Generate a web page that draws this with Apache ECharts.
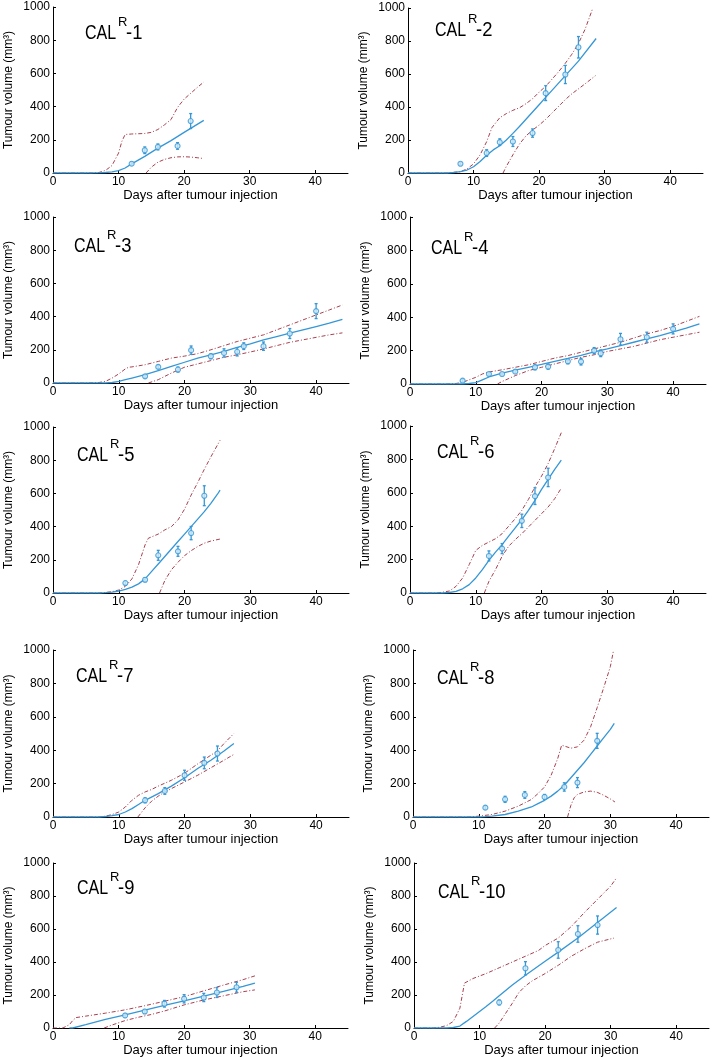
<!DOCTYPE html>
<html><head><meta charset="utf-8">
<script src="https://cdn.jsdelivr.net/npm/echarts@6/dist/echarts.min.js"></script>
<style>html,body{margin:0;padding:0;background:#fff}#c{width:713px;height:1057px}</style>
</head><body><div id="c"></div>
<script>
// ---- tick labels / categories ----
const panelNames = ['1','2','3','4','5','6','7','8','9','10'];
const xTickValues = [0, 10, 20, 30, 40];
const yTickValues = [0, 200, 400, 600, 800, 1000];
const xTitle = 'Days after tumour injection';
const yTitle = 'Tumour volume (mm³)';

// ---- data: observations [day, mean, sem], fit, upper and lower bounds [day, volume] ----
const p1Obs = [[12,56,10],[14,137,20],[16,157,18],[19,163,20],[21,313,45]];
const p1Fit = [[0,0],[5,0],[7,1],[8,3],[9,7],[10,14],[11,30],[12,55],[14,100],[16,150],[18,195],[20,245],[22,293],[23,317]];
const p1Up  = [[0,0],[6,0],[7,3],[8,15],[9,45],[10,120],[10.5,190],[11,232],[12,235],[14,238],[15,245],[16,262],[17,290],[18,322],[19,395],[20,445],[21,480],[22,515],[23,548]];
const p1Lo  = [[14.2,0],[15,35],[16,65],[17,82],[18,92],[19,97],[20,98],[21,96],[22,92],[23,87]];

const p2Obs = [[8,56,8],[12,121,20],[14,187,20],[16,191,30],[19,242,25],[21,484,45],[24,597,55],[26,762,65]];
const p2Fit = [[0,0],[6,0],[7,3],[8,8],[9,18],[10,38],[11,70],[12,108],[13,140],[14,165],[15,200],[16,240],[17,282],[18,326],[19,370],[20,414],[21,458],[22,502],[24,590],[26,678],[28.7,815]];
const p2Up  = [[0,0],[6,0],[8,8],[9,25],[10,55],[11,110],[12,190],[12.8,275],[14,335],[15,360],[16,380],[17,395],[18,420],[19,450],[20,490],[21,525],[22,570],[23,615],[24,665],[25,720],[26,785],[27,870],[28.2,1000]];
const p2Lo  = [[14.5,0],[15,40],[16,110],[17,175],[18,225],[19,260],[20,290],[21,325],[22,365],[23,405],[24,445],[25,480],[26,510],[27,540],[28.6,590]];

const p3Obs = [[14,40,8],[16,97,10],[19,81,15],[21,198,25],[24,161,15],[26,181,25],[28,188,25],[29,222,20],[32,222,25],[36,298,30],[40,433,45]];
const p3Fit = [[0,0],[8,0],[9,3],[10,10],[11,20],[12,30],[14,50],[16,75],[18,100],[20,125],[22,150],[24,170],[26,190],[28,215],[30,235],[32,260],[34,280],[36,300],[38,320],[40,340],[42,360],[44,383]];
const p3Up  = [[0,0],[5,0],[7,3],[8,10],[9,30],[10,55],[11,85],[11.5,95],[12,97],[14,110],[16,130],[18,150],[20,162],[22,177],[24,200],[26,225],[28,250],[30,270],[32,290],[34,320],[36,350],[38,380],[40,410],[42,440],[44,470]];
const p3Lo  = [[14.5,0],[16,20],[18,60],[20,95],[22,115],[24,135],[26,155],[28,170],[30,187],[32,205],[34,225],[36,245],[38,260],[40,275],[42,290],[44,302]];

const p4Obs = [[8,20,8],[12,60,8],[14,60,6],[16,74,8],[19,100,15],[21,104,15],[24,136,15],[26,134,20],[28,200,18],[29,184,20],[32,268,35],[36,280,30],[40,330,30]];
const p4Fit = [[0,0],[8,0],[9,3],[10,8],[11,25],[12,42],[14,65],[16,83],[18,100],[20,117],[22,135],[24,153],[26,172],[28,192],[30,210],[32,230],[34,250],[36,270],[38,290],[40,312],[42,335],[44,360]];
const p4Up  = [[0,0],[5.5,0],[7,3],[8,10],[9,25],[10,40],[11,60],[12,72],[14,85],[16,100],[18,115],[20,135],[22,155],[24,170],[26,190],[28,210],[30,230],[32,250],[34,275],[36,300],[38,320],[40,345],[42,375],[44,405]];
const p4Lo  = [[13.3,0],[14,15],[16,50],[18,80],[20,100],[22,120],[24,140],[26,160],[28,175],[30,195],[32,210],[34,225],[36,245],[38,265],[40,280],[42,295],[44,310]];

const p5Obs = [[11,60,10],[14,80,12],[16,227,30],[19,251,30],[21,361,40],[23,586,60]];
const p5Fit = [[0,0],[7,0],[8,2],[9,5],[10,12],[11,22],[12,35],[13,55],[14,85],[15,130],[16,175],[17,220],[18,265],[19,310],[20,355],[21,400],[22,445],[23,490],[24,540],[25,595],[25.4,620]];
const p5Up  = [[0,0],[7,0],[8,3],[9,8],[10,18],[11,40],[12,85],[13,170],[14,290],[14.5,330],[16,355],[17,380],[18,400],[19,440],[20,505],[21,590],[22,665],[23,745],[24,820],[25.4,920]];
const p5Lo  = [[16.2,0],[17,75],[18,140],[19,185],[20,225],[21,255],[22,280],[23,300],[24,313],[25.4,325]];

const p6Obs = [[12,222,30],[14,266,30],[17,432,40],[19,580,50],[21,692,55]];
const p6Fit = [[0,0],[5,0],[6,3],[7,10],[8,25],[9,50],[10,90],[11,140],[12,195],[13,245],[14,290],[15,340],[16,390],[17,440],[18,495],[19,555],[20,620],[21,680],[22,740],[23,795]];
const p6Up  = [[0,0],[4,0],[5,5],[6,12],[7,40],[8,90],[9,170],[10,255],[11,285],[12,305],[13,325],[14,355],[15,400],[16,445],[17,495],[18,560],[19,635],[20,700],[21,775],[22,865],[23,960]];
const p6Lo  = [[11.3,0],[12,70],[13,140],[14,220],[15,280],[16,320],[17,355],[18,395],[19,435],[20,475],[21,515],[22,565],[23,628]];

const p7Obs = [[14,100,15],[17,156,20],[20,250,30],[23,324,35],[25,380,45]];
const p7Fit = [[0,0],[7,0],[8,3],[9,8],[10,15],[11,30],[12,50],[13,75],[14,100],[16,140],[18,185],[20,235],[22,290],[24,340],[26,395],[27.5,440]];
const p7Up  = [[0,0],[7,0],[8,5],[9,15],[10,30],[11,60],[12,100],[13,130],[14,150],[15,165],[16,185],[18,220],[20,262],[22,318],[24,370],[25,396],[26,440],[27.5,500]];
const p7Lo  = [[12.9,0],[14,55],[15,95],[16,125],[17,150],[18,170],[20,210],[22,250],[24,295],[26,340],[27.5,375]];

const p8Obs = [[11,56,10],[14,106,18],[17,132,20],[20,120,15],[23,180,25],[25,206,30],[28,456,45]];
const p8Fit = [[0,0],[10,0],[11,2],[12,5],[14,15],[16,35],[18,60],[19,80],[20,100],[21,125],[22,155],[23,190],[24,235],[25,280],[26,325],[27,375],[28,425],[29,475],[30,525],[30.6,560]];
const p8Up  = [[0,0],[8.5,0],[10,5],[12,15],[14,35],[16,65],[18,105],[19,140],[20,180],[21,250],[22,350],[22.6,430],[23,425],[24,412],[25,420],[26,460],[27,540],[28,655],[29,775],[30,900],[30.5,1000]];
const p8Lo  = [[23.5,0],[24,70],[24.5,115],[25,135],[26,150],[27,155],[28,148],[29,130],[30,108],[30.7,90]];

const p9Obs = [[11,76,12],[14,100,12],[17,147,20],[20,177,25],[23,185,25],[25,215,30],[28,247,30]];
const p9Fit = [[2.5,0],[3,0],[5,20],[8,52],[11,80],[14,108],[17,137],[20,165],[23,193],[26,222],[29,252],[30.8,272]];
const p9Up  = [[0,0],[1.5,0],[2.5,20],[3,45],[3.5,63],[5,72],[8,90],[11,110],[14,135],[17,162],[20,190],[23,225],[26,260],[29,293],[30.8,316]];
const p9Lo  = [[7.8,0],[9,18],[11,45],[13,65],[15,82],[17,103],[20,140],[23,170],[26,195],[29,220],[30.8,231]];

const p10Obs = [[13,155,15],[17,362,40],[22,473,50],[25,570,50],[28,624,55]];
const p10Fit = [[0,0],[5,0],[6,3],[7,12],[8,40],[9,70],[10,100],[11,130],[12,162],[13,195],[15,260],[17,320],[20,405],[22,460],[25,545],[28,640],[30.9,730]];
const p10Up  = [[0,0],[3,0],[4,5],[5,15],[6,40],[7,120],[7.7,272],[9,300],[11,330],[13,365],[15,400],[17,435],[19,470],[20,500],[22,545],[24,615],[26,700],[28,780],[30,860],[30.9,910]];
const p10Lo  = [[12.3,0],[13,30],[14,90],[15,150],[16,215],[17,255],[18,285],[20,330],[22,380],[24,435],[26,480],[28,520],[30.5,545]];

const obsList = [p1Obs,p2Obs,p3Obs,p4Obs,p5Obs,p6Obs,p7Obs,p8Obs,p9Obs,p10Obs];
const fitList = [p1Fit,p2Fit,p3Fit,p4Fit,p5Fit,p6Fit,p7Fit,p8Fit,p9Fit,p10Fit];
const upList  = [p1Up,p2Up,p3Up,p4Up,p5Up,p6Up,p7Up,p8Up,p9Up,p10Up];
const loList  = [p1Lo,p2Lo,p3Lo,p4Lo,p5Lo,p6Lo,p7Lo,p8Lo,p9Lo,p10Lo];

// ---- layout (pixels) ----
const layout = [
  {l:53, r:348, t:7,   b:173, tx:85,  ty:33},
  {l:408,r:703, t:8,   b:173, tx:435, ty:30},
  {l:53, r:349, t:217, b:383, tx:74,  ty:246},
  {l:410,r:706, t:217, b:384, tx:431, ty:248},
  {l:53, r:349, t:427, b:593, tx:77,  ty:455},
  {l:410,r:706, t:426, b:593, tx:437, ty:452},
  {l:53, r:349, t:650, b:817, tx:76,  ty:676},
  {l:413,r:709, t:650, b:817, tx:437, ty:678},
  {l:53, r:348, t:863, b:1028,tx:77,  ty:888},
  {l:414,r:709, t:863, b:1028,tx:438, ty:892}
];

const FONT = 'Liberation Sans, Arial, Helvetica, sans-serif';
const BLUE = '#3597d6';
const RED = '#a8404e';

const grids = [], xAxes = [], yAxes = [], series = [], graphics = [];
layout.forEach((g, i) => {
  grids.push({left:g.l, top:g.t, width:g.r-g.l, height:g.b-g.t, containLabel:false, outerBoundsMode:'none'});
  xAxes.push({
    type:'value', gridIndex:i, min:0, max:45, interval:10,
    axisLine:{show:true, onZero:false, lineStyle:{color:'#000', width:1}},
    axisTick:{show:true, inside:true, length:3, lineStyle:{color:'#000'}},
    axisLabel:{color:'#000', fontSize:12, fontFamily:FONT, margin:3, showMaxLabel:false,
      formatter: v => (xTickValues.indexOf(v) >= 0 ? String(v) : '')},
    splitLine:{show:false},
    name:xTitle, nameLocation:'middle', nameGap:14,
    nameTextStyle:{color:'#000', fontSize:13, fontFamily:FONT}
  });
  yAxes.push({
    type:'value', gridIndex:i, min:0, max:1000, interval:200,
    axisLine:{show:true, lineStyle:{color:'#000', width:1}},
    axisTick:{show:true, inside:true, length:3, lineStyle:{color:'#000'}},
    axisLabel:{color:'#000', fontSize:12, fontFamily:FONT, margin:3,
      formatter: v => (yTickValues.indexOf(v) >= 0 ? String(v) : '')},
    splitLine:{show:false},
    name:yTitle, nameLocation:'middle', nameGap:38, nameRotate:90,
    nameTextStyle:{color:'#000', fontSize:12, fontFamily:FONT}
  });
  series.push({type:'line', xAxisIndex:i, yAxisIndex:i, data:upList[i], showSymbol:false, silent:true,
    lineStyle:{color:RED, width:1, type:[4,2,1,2]}, z:2});
  series.push({type:'line', xAxisIndex:i, yAxisIndex:i, data:loList[i], showSymbol:false, silent:true,
    lineStyle:{color:RED, width:1, type:[4,2,1,2]}, z:2});
  series.push({type:'line', xAxisIndex:i, yAxisIndex:i, data:fitList[i], showSymbol:false, silent:true,
    lineStyle:{color:BLUE, width:1.3}, z:3});
  series.push({type:'custom', xAxisIndex:i, yAxisIndex:i, data:obsList[i], silent:true, z:4,
    encode:{x:0, y:1},
    renderItem:(params, api) => {
      const x = api.value(0), y = api.value(1), e = api.value(2);
      const lo = api.coord([x, y - e]), hi = api.coord([x, y + e]);
      const st = {stroke:BLUE, lineWidth:1.3};
      return {type:'group', children:[
        {type:'line', shape:{x1:lo[0], y1:lo[1], x2:hi[0], y2:hi[1]}, style:st},
        {type:'line', shape:{x1:lo[0]-1.5, y1:lo[1], x2:lo[0]+1.5, y2:lo[1]}, style:st},
        {type:'line', shape:{x1:hi[0]-1.5, y1:hi[1], x2:hi[0]+1.5, y2:hi[1]}, style:st}
      ]};
    }
  });
  series.push({type:'scatter', xAxisIndex:i, yAxisIndex:i, data:obsList[i].map(d => [d[0], d[1]]),
    symbol:'circle', symbolSize:5, silent:true, z:5,
    itemStyle:{color:'#d6ebf8', borderColor:BLUE, borderWidth:1.1}});
  graphics.push({type:'group', children:[
    {type:'text', x:g.tx, y:g.ty, scaleX:0.8,
      style:{text:'CAL', fontSize:20, fontFamily:FONT, fill:'#000', verticalAlign:'middle'}},
    {type:'text', x:g.tx+33, y:g.ty-11,
      style:{text:'R', fontSize:13, fontFamily:FONT, fill:'#000', verticalAlign:'middle'}},
    {type:'text', x:g.tx+41, y:g.ty, scaleX:0.92,
      style:{text:'-' + panelNames[i], fontSize:20, fontFamily:FONT, fill:'#000', verticalAlign:'middle'}}
  ]});
});

const chart = echarts.init(document.getElementById('c'), null, {renderer:'canvas'});
chart.setOption({
  animation:false,
  backgroundColor:'#fff',
  grid:grids, xAxis:xAxes, yAxis:yAxes, series:series, graphic:graphics
});
</script></body></html>
